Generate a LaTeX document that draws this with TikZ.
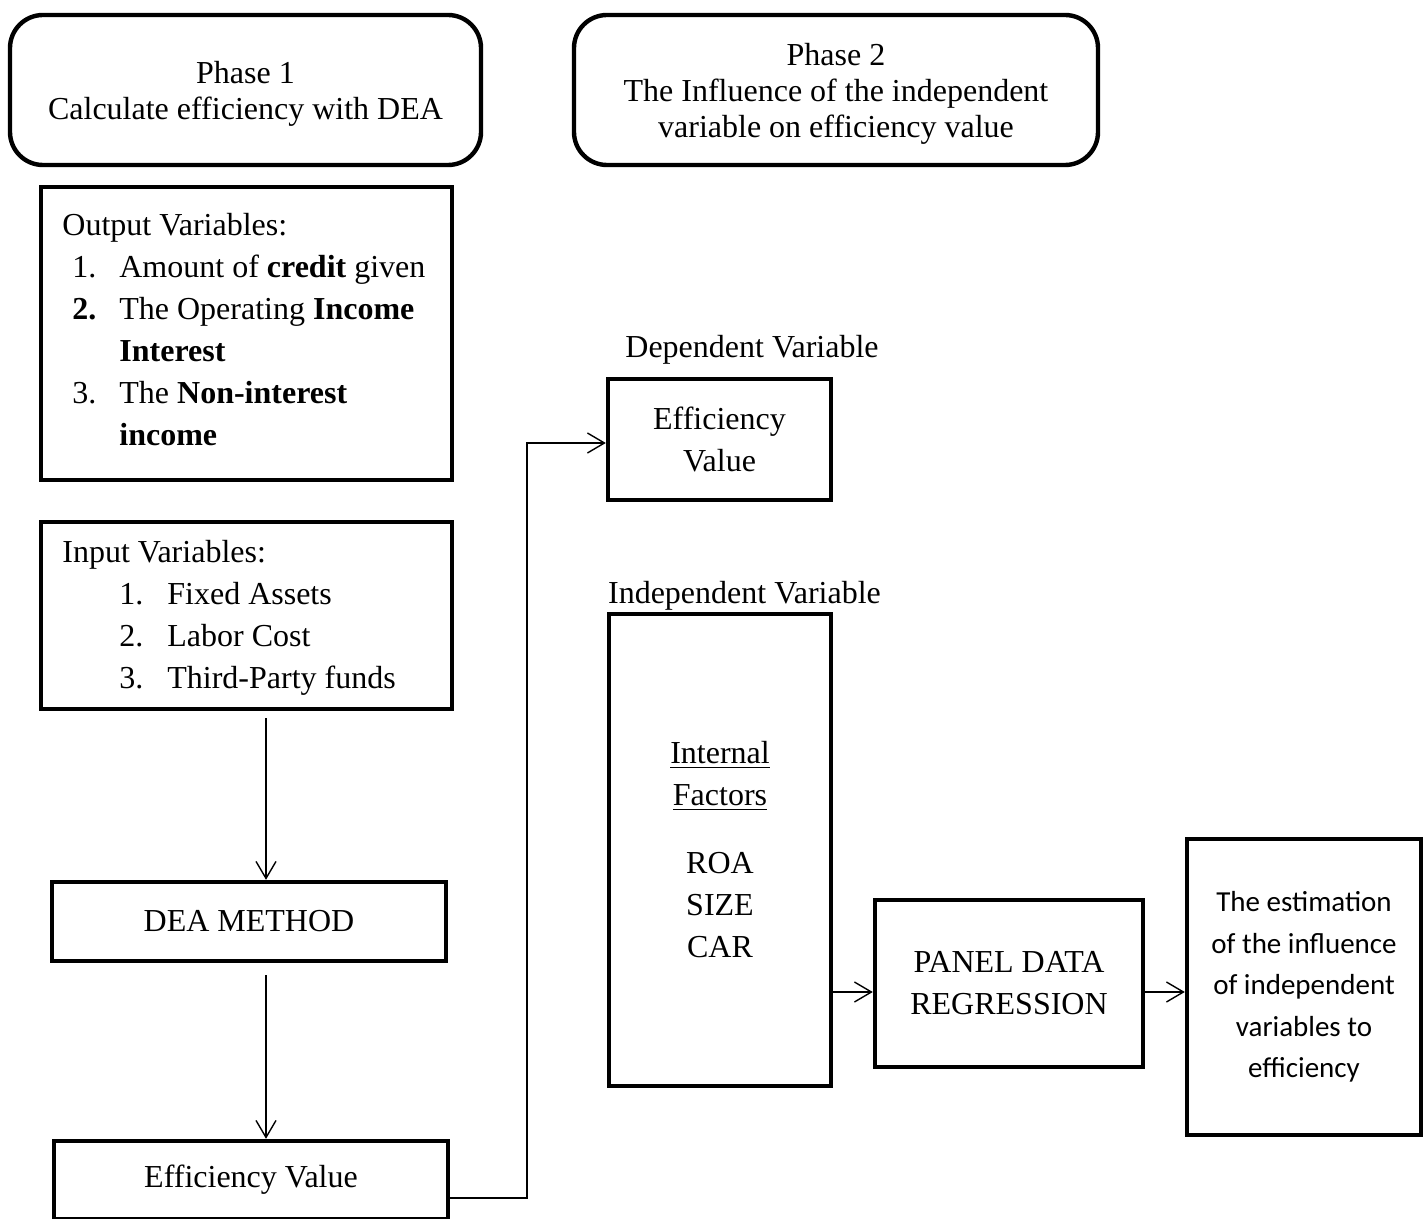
\documentclass[tikz,border=0pt]{standalone}
\usepackage{fontspec}
\setmainfont{Liberation Serif}
\newfontfamily\calibrifont{Carlito}
\usetikzlibrary{arrows.meta}
\begin{document}
\begin{tikzpicture}[x=0.5pt,y=-0.5pt,
  box/.style={draw, line width=2.2pt, rectangle, inner sep=0pt, align=center, font=\fontsize{16}{21}\selectfont},
  phasebox/.style={box, rounded corners=16.5pt, font=\fontsize{16}{18.2}\selectfont},
  arr/.style={-{Straight Barb[length=8.5pt,width=10pt]}, line width=0.7pt},
  lbl/.style={inner sep=0pt, font=\fontsize{16}{21}\selectfont},
  listtxt/.style={anchor=base west, inner sep=0pt, font=\fontsize{16}{21}\selectfont}]
\path[use as bounding box] (0,0) rectangle (1424,1219);

% Phase headers
\node[phasebox, minimum width=235.5pt, minimum height=75pt] (p1) at (245.5,90) {\rule{0pt}{15pt}Phase 1\\Calculate efficiency with DEA};
\node[phasebox, minimum width=262pt, minimum height=75pt] (p2) at (836,90) {\rule{0pt}{15pt}Phase 2\\The Influence of the independent\\variable on efficiency value};

% Output variables
\node[box, minimum width=205.5pt, minimum height=146.5pt] (out) at (246.5,333.5) {};
\node[listtxt] (outtxt) at (62,236) {\begin{tabular}[t]{@{}l@{}}Output Variables:\\
\hspace*{5pt}\makebox[23.5pt][l]{1.}Amount of \textbf{credit} given\\
\hspace*{5pt}\makebox[23.5pt][l]{\textbf{2.}}The Operating \textbf{Income}\\
\hspace*{28.5pt}\textbf{Interest}\\
\hspace*{5pt}\makebox[23.5pt][l]{3.}The \textbf{Non-interest}\\
\hspace*{28.5pt}\textbf{income}\end{tabular}};

% Input variables
\node[box, minimum width=205.5pt, minimum height=93.5pt] (in) at (246.5,615.5) {};
\node[listtxt] (intxt) at (62,562) {\begin{tabular}[t]{@{}l@{}}Input Variables:\\
\hspace*{28.5pt}\makebox[24pt][l]{1.}Fixed Assets\\
\hspace*{28.5pt}\makebox[24pt][l]{2.}Labor Cost\\
\hspace*{28.5pt}\makebox[24pt][l]{3.}Third-Party funds\end{tabular}};

% Phase 1 flow
\node[box, minimum width=197pt, minimum height=39.5pt] (dea) at (249,921.5) {DEA METHOD};
\node[box, minimum width=197pt, minimum height=39pt] (eff) at (251,1180) {Efficiency Value};

% Phase 2
\node[lbl] (deplbl) at (752,350) {Dependent Variable};
\node[box, minimum width=111.5pt, minimum height=60.5pt] (dep) at (719.5,439.5) {Efficiency\\Value};
\node[lbl] (indlbl) at (744.5,596) {Independent Variable};
\node[box, minimum width=111pt, minimum height=236pt] (intf) at (720,850) {\underline{Internal}\\\underline{Factors}\\[13pt]ROA\\SIZE\\CAR};
\node[box, minimum width=134pt, minimum height=83.5pt] (panel) at (1009,983.5) {PANEL DATA\\REGRESSION};
\node[box, minimum width=117pt, minimum height=148pt, font=\calibrifont\fontsize{14.5}{20.75}\selectfont] (est) at (1304,987) {The estimation\\of the influence\\of independent\\variables to\\efficiency};

% Connectors
\coordinate (colA) at (266,0);
\coordinate (bend) at (527,443);
\coordinate (row) at (0,992);
\draw[arr] ([yshift=-3.5pt]in.south -| colA) -- (dea.north -| colA);
\draw[arr] ([yshift=-6pt]dea.south -| colA) -- (eff.north -| colA);
\draw[arr] ([yshift=-9pt]eff.east) -| (bend) -- (dep.west |- bend);
\draw[arr] (intf.east |- row) -- (panel.west |- row);
\draw[arr] (panel.east |- row) -- (est.west |- row);
\end{tikzpicture}
\end{document}
